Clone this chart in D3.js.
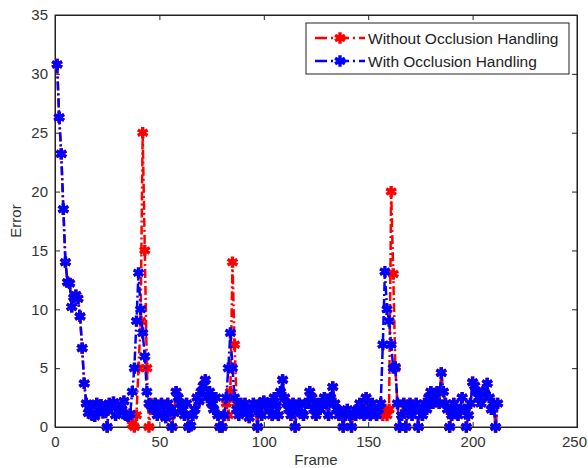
<!DOCTYPE html>
<html><head><meta charset="utf-8">
<script src="https://cdn.jsdelivr.net/npm/d3@7"></script>
<style>body{margin:0;background:#fff}svg{display:block}text{font-family:Arial,"Liberation Sans",sans-serif}</style>
</head><body><svg id="c" width="588" height="468"></svg>
<script>
const seriesNames = ["Without Occlusion Handling", "With Occlusion Handling"];
const xTicks = [0, 50, 100, 150, 200, 250];
const yTicks = [0, 5, 10, 15, 20, 25, 30, 35];
// With occlusion handling (frames 1..212)
const withOcc = [
 30.8,26.3,23.2,18.5,14.0,12.3,12.2,10.2,11.0,11.2, 10.9,9.4,6.7,3.7,2.0,1.2,1.8,1.0,0.9,2.0,
 1.5,1.9,1.2,1.4,0.0,2.0,1.7,2.1,1.0,1.8, 1.3,1.5,2.2,1.0,0.9,1.1,3.0,5.0,9.0,13.1,
 10.0,8.0,6.0,3.0,2.0,1.8,1.5,2.0,1.0,1.8, 2.0,1.2,0.8,2.0,1.5,0.0,1.2,3.0,2.5,2.0,
 1.5,1.0,2.0,0.0,0.1,1.0,1.5,2.5,2.2,3.0, 3.5,4.0,2.5,3.0,2.0,1.5,2.5,1.0,0.0,0.0,
 1.0,2.5,5.0,8.0,5.0,2.5,1.5,1.0,2.0,1.5, 2.0,1.2,0.8,1.5,2.0,1.5,0.0,2.0,1.0,2.2,
 1.8,2.0,1.5,1.0,2.5,1.8,1.0,3.0,4.0,2.5, 2.0,1.5,1.0,2.0,0.0,1.5,2.0,1.2,1.0,2.0,
 2.0,3.0,2.5,1.5,1.0,2.0,1.5,1.8,2.5,2.0, 1.0,2.5,3.4,2.0,1.5,1.0,1.2,0.0,1.0,1.5,
 1.0,0.0,1.2,1.0,1.5,2.0,1.2,1.0,2.5,1.5, 1.0,2.0,1.5,1.0,1.5,2.0,7.0,13.2,10.0,9.0,
 7.0,5.0,5.1,2.0,0.0,1.0,2.0,0.0,1.5,2.0, 1.0,1.5,2.0,0.0,1.5,1.0,2.0,1.5,2.5,3.0,
 2.0,2.5,3.0,2.0,4.6,3.0,2.0,1.5,0.0,1.0, 2.0,1.5,1.0,1.5,2.5,1.5,0.0,1.0,2.0,3.8,
 3.5,3.0,2.5,2.0,3.0,2.8,3.7,2.5,1.5,2.0, 0.0,2.0
];
// Without occlusion handling (frames 1..212)
const withoutOcc = [
 30.8,26.3,23.2,18.5,14.0,12.3,12.2,10.2,11.0,11.2, 10.9,9.4,6.7,3.7,2.0,1.2,1.8,1.0,0.9,2.0,
 1.5,1.9,1.2,1.4,0.0,2.0,1.7,2.1,1.0,1.8, 1.3,1.5,2.2,1.0,0.9,1.1,0.2,0.0,1.0,5.0,
 9.0,25.0,15.0,5.0,0.0,2.0,1.5,2.0,1.0,1.8, 2.0,1.2,0.8,2.0,1.5,0.0,1.2,3.0,2.5,2.0,
 1.5,1.0,2.0,0.0,0.1,1.0,1.5,2.5,2.2,3.0, 3.5,4.0,2.5,3.0,2.0,1.5,2.5,1.0,0.0,0.0,
 1.0,2.0,1.0,3.0,14.0,7.0,2.0,1.0,2.0,1.5, 2.0,1.2,0.8,1.5,2.0,1.5,0.0,2.0,1.0,2.2,
 1.8,2.0,1.5,1.0,2.5,1.8,1.0,3.0,4.0,2.5, 2.0,1.5,1.0,2.0,0.0,1.5,2.0,1.2,1.0,2.0,
 2.0,3.0,2.5,1.5,1.0,2.0,1.5,1.8,2.5,2.0, 1.0,2.5,3.4,2.0,1.5,1.0,1.2,0.0,1.0,1.5,
 1.0,0.0,1.2,1.0,1.5,2.0,1.2,1.0,2.5,1.5, 1.0,2.0,1.5,1.0,1.5,2.0,1.0,1.5,1.0,1.5,
 20.0,13.0,5.0,2.0,0.0,1.0,2.0,0.0,1.5,2.0, 1.0,1.5,2.0,0.0,1.5,1.0,2.0,1.5,2.5,3.0,
 2.0,2.5,3.0,2.0,4.6,3.0,2.0,1.5,0.0,1.0, 2.0,1.5,1.0,1.5,2.5,1.5,0.0,1.0,2.0,3.8,
 3.5,3.0,2.5,2.0,3.0,2.8,3.7,2.5,1.5,2.0, 0.0,2.0
];
const colors = ["#ff0000", "#0000ff"];

const svg = d3.select("#c");
const L = 55, R = 577, T = 15, B = 427;
const x = d3.scaleLinear().domain([0, 250]).range([L, R]);
const y = d3.scaleLinear().domain([0, 35]).range([B, T]);

svg.append("rect").attr("x", L).attr("y", T).attr("width", R - L).attr("height", B - T)
  .attr("fill", "#fff").attr("stroke", "#222").attr("stroke-width", 1);

const gx = svg.append("g").attr("transform", `translate(0,${B})`)
  .call(d3.axisBottom(x).tickValues(xTicks).tickSize(-5).tickPadding(9).tickFormat(d3.format("d")));
const gy = svg.append("g").attr("transform", `translate(${L},0)`)
  .call(d3.axisLeft(y).tickValues(yTicks).tickSize(-5).tickPadding(7).tickFormat(d3.format("d")));
const gx2 = svg.append("g").attr("transform", `translate(0,${T})`)
  .call(d3.axisTop(x).tickValues(xTicks).tickSize(-5).tickFormat(""));
const gy2 = svg.append("g").attr("transform", `translate(${R},0)`)
  .call(d3.axisRight(y).tickValues(yTicks).tickSize(-5).tickFormat(""));
[gx, gy, gx2, gy2].forEach(g => {
  g.select(".domain").attr("stroke", "#222");
  g.selectAll(".tick line").attr("stroke", "#222");
  g.selectAll("text").attr("font-size", 15).attr("fill", "#333")
    .attr("font-family", "Arial, 'Liberation Sans', sans-serif");
});
// keep the last x label inside the window
gx.selectAll(".tick text").filter(d => d === 250).attr("dx", -3);

svg.append("text").attr("x", x(125)).attr("y", 465).attr("text-anchor", "middle")
  .attr("font-size", 15).attr("fill", "#333").text("Frame");
svg.append("text").attr("transform", "translate(21,221) rotate(-90)").attr("text-anchor", "middle")
  .attr("font-size", 15).attr("fill", "#333").text("Error");

const star = d3.symbol().type(d3.symbolAsterisk).size(90);
const dash = "9,3,2,3";

function drawSeries(vals, color) {
  const pts = vals.map((v, i) => [i + 1, v]);
  const g = svg.append("g");
  g.append("path").datum(pts)
    .attr("d", d3.line().x(d => x(d[0])).y(d => y(d[1])))
    .attr("fill", "none").attr("stroke", color).attr("stroke-width", 2.5)
    .attr("stroke-dasharray", dash);
  g.selectAll("path.m").data(pts).join("path").attr("class", "m")
    .attr("transform", d => `translate(${x(d[0])},${y(d[1])})`)
    .attr("d", star).attr("fill", "none").attr("stroke", color).attr("stroke-width", 3.4);
}
drawSeries(withoutOcc, colors[0]);
drawSeries(withOcc, colors[1]);

const lg = svg.append("g");
lg.append("rect").attr("x", 306).attr("y", 23).attr("width", 263).attr("height", 51)
  .attr("fill", "#fff").attr("stroke", "#222").attr("stroke-width", 1);
seriesNames.forEach((name, i) => {
  const yy = 38 + i * 23;
  lg.append("line").attr("x1", 315).attr("x2", 365).attr("y1", yy).attr("y2", yy)
    .attr("stroke", colors[i]).attr("stroke-width", 2.5).attr("stroke-dasharray", "12,4,2,4");
  lg.append("path").attr("transform", `translate(340,${yy})`).attr("d", star)
    .attr("fill", "none").attr("stroke", colors[i]).attr("stroke-width", 3.4);
  lg.append("text").attr("x", 368).attr("y", yy + 5.5).attr("font-size", 15.5)
    .attr("fill", "#222").text(name);
});
</script></body></html>
